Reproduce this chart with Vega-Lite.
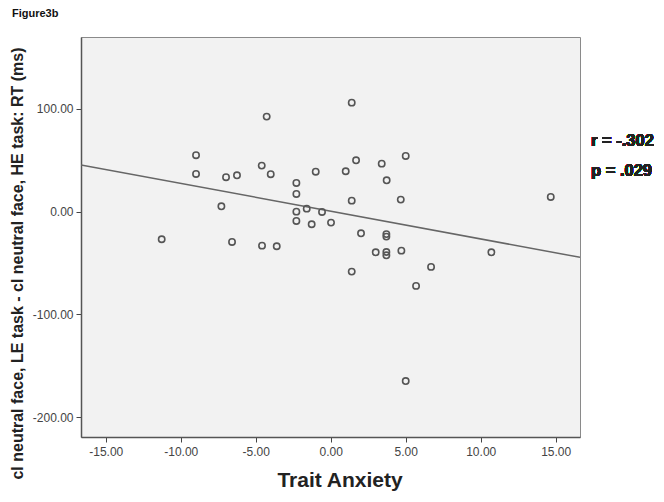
{
  "$schema": "https://vega.github.io/schema/vega-lite/v6.json",
  "autosize": {"type": "none"},
  "width": 499,
  "height": 400,
  "padding": {"left": 81, "top": 37, "right": 84, "bottom": 65},
  "background": "white",
  "title": {"text": "Figure3b", "anchor": "start", "frame": "group", "dx": -69, "offset": 18, "fontSize": 11, "fontWeight": "bold", "font": "Liberation Sans", "color": "#111"},
  "config": {
    "view": {"fill": "#f2f2f2", "stroke": "#8a8a8a", "strokeWidth": 1},
    "axis": {"labelFont": "Liberation Sans", "labelFontSize": 12, "labelColor": "#444", "titleFont": "Liberation Sans", "titleFontWeight": "bold", "titleColor": "#222", "domainColor": "#555", "domainWidth": 1.5, "tickColor": "#444", "tickSize": 5, "grid": false}
  },
  "data": {"values": [
    {"x": -4.27, "y": 92.5}, {"x": -8.98, "y": 54.9}, {"x": -8.98, "y": 36.7}, {"x": -6.98, "y": 33.5},
    {"x": -6.25, "y": 35.4}, {"x": -4.6, "y": 44.8}, {"x": -4.0, "y": 36.4}, {"x": -2.29, "y": 27.9},
    {"x": -2.29, "y": 17.2}, {"x": -1.0, "y": 38.9}, {"x": -7.29, "y": 5.2}, {"x": -2.29, "y": 0},
    {"x": -1.6, "y": 2.9}, {"x": -0.58, "y": -0.3}, {"x": -2.29, "y": -9.1}, {"x": -1.27, "y": -12.3},
    {"x": 0.02, "y": -10.7}, {"x": -11.27, "y": -26.9}, {"x": -6.58, "y": -29.5}, {"x": -4.58, "y": -33.1},
    {"x": -3.6, "y": -33.7}, {"x": 1.4, "y": 106.1}, {"x": 1.69, "y": 50}, {"x": 1.0, "y": 39.3},
    {"x": 3.4, "y": 46.7}, {"x": 5.0, "y": 54.2}, {"x": 3.73, "y": 30.5}, {"x": 1.4, "y": 10.7},
    {"x": 4.67, "y": 11.7}, {"x": 14.67, "y": 14.3}, {"x": 2.02, "y": -21.1}, {"x": 3.71, "y": -21.9},
    {"x": 3.71, "y": -24.3}, {"x": 3.0, "y": -39.6}, {"x": 3.71, "y": -39.3}, {"x": 3.71, "y": -42.5},
    {"x": 4.71, "y": -38}, {"x": 10.71, "y": -39.6}, {"x": 1.4, "y": -58.4}, {"x": 6.69, "y": -53.8},
    {"x": 5.69, "y": -72.3}, {"x": 5.0, "y": -164.9}
  ]},
  "layer": [
    {
      "transform": [{"regression": "y", "on": "x", "extent": [-16.65, 16.62]}],
      "mark": {"type": "line", "color": "#666", "strokeWidth": 1.5, "clip": true},
      "encoding": {
        "x": {"field": "x", "type": "quantitative"},
        "y": {"field": "y", "type": "quantitative"}
      }
    },
    {
      "mark": {"type": "point", "shape": "circle", "filled": false, "stroke": "#555", "strokeWidth": 1.6, "size": 40, "opacity": 1},
      "encoding": {
        "x": {"field": "x", "type": "quantitative", "scale": {"domain": [-16.65, 16.62], "nice": false, "zero": false},
          "axis": {"values": [-15, -10, -5, 0, 5, 10, 15], "labelExpr": "replace(format(datum.value, '.2f'), '\u2212', '-')", "title": "Trait Anxiety", "titleFontSize": 21, "titlePadding": 12, "labelPadding": 4, "titleX": 258.5}},
        "y": {"field": "y", "type": "quantitative", "scale": {"domain": [-219.4, 170], "nice": false, "zero": false},
          "axis": {"values": [-200, -100, 0, 100], "labelExpr": "replace(format(datum.value, '.2f'), '\u2212', '-')", "title": "cl neutral face, LE task - cl neutral face, HE task: RT (ms)", "titleFontSize": 16, "titlePadding": 7, "labelPadding": 3, "titleY": 226}}
      }
    },
    {
      "mark": {"type": "text", "align": "left", "baseline": "middle", "font": "Liberation Sans", "fontSize": 16.5, "fontWeight": "bold", "color": "#222", "dx": 11, "clip": false},
      "encoding": {
        "x": {"datum": 16.62},
        "y": {"datum": 68.8},
        "text": {"value": "r = -.302"}
      }
    },
    {
      "mark": {"type": "text", "align": "left", "baseline": "middle", "font": "Liberation Sans", "fontSize": 16.5, "fontWeight": "bold", "color": "#222", "dx": 11, "clip": false},
      "encoding": {
        "x": {"datum": 16.62},
        "y": {"datum": 39.8},
        "text": {"value": "p = .029"}
      }
    }
  ]
}
